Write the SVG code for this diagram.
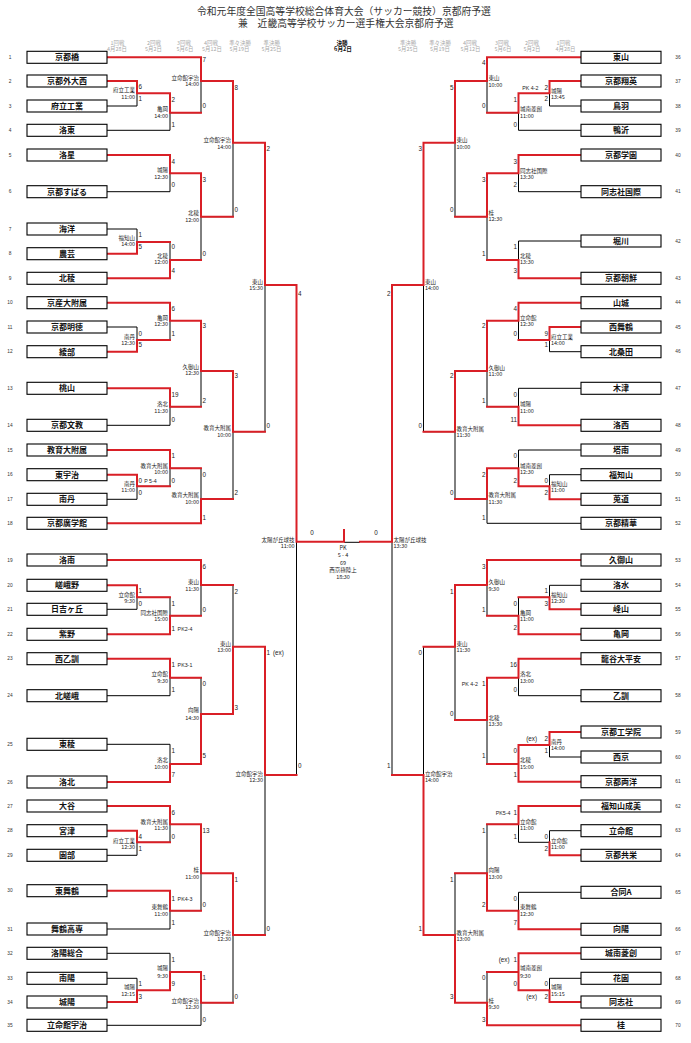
<svg xmlns="http://www.w3.org/2000/svg" width="691" height="1043" viewBox="0 0 691 1043">
<style>
.k{fill:none;stroke:#000;stroke-width:1}
.r{fill:none;stroke:#d91f26;stroke-width:2;stroke-linecap:square;stroke-linejoin:miter}
.box{fill:#fff;stroke:#000;stroke-width:1.1}
.nm{font-family:"Noto Sans CJK JP","Noto Sans",sans-serif;font-size:8px;font-weight:bold;text-anchor:middle;fill:#111}
.no{font-family:"Liberation Sans",sans-serif;font-size:4.8px;text-anchor:middle;fill:#333}
.s{font-family:"Liberation Sans","Noto Sans CJK JP",sans-serif;font-size:6.3px;fill:#222}
.e{text-anchor:end}
.pk{font-size:5.3px}
.v{font-family:"Noto Sans CJK JP","Noto Sans",sans-serif;font-size:5.5px;fill:#222}
.vl{text-anchor:end}
.hd{font-family:"Noto Sans CJK JP",sans-serif;font-size:5.4px;text-anchor:middle;fill:#a8a8a8}
.hf{font-family:"Noto Sans CJK JP",sans-serif;font-size:5.6px;text-anchor:middle;fill:#111;font-weight:bold}
.tt{font-family:"Noto Sans CJK JP",sans-serif;font-size:9.8px;fill:#333}
.c{text-anchor:middle}
</style>
<rect width="691" height="1043" fill="#fff"/>
<g id="header">
<text class="tt" x="197" y="14.6">令和元年度全国高等学校総合体育大会（サッカー競技）京都府予選</text>
<text class="tt" x="238" y="26.6">兼　近畿高等学校サッカー選手権大会京都府予選</text>
<text class="hd" x="117.5" y="45.3">1回戦</text><text class="hd" x="117" y="51.3">4月28日</text>
<text class="hd" x="154" y="45.3">2回戦</text><text class="hd" x="153.5" y="51.3">5月2日</text>
<text class="hd" x="184" y="45.3">3回戦</text><text class="hd" x="185" y="51.3">5月6日</text>
<text class="hd" x="211" y="45.3">4回戦</text><text class="hd" x="212" y="51.3">5月12日</text>
<text class="hd" x="240" y="45.3">準々決勝</text><text class="hd" x="239.5" y="51.3">5月19日</text>
<text class="hd" x="271.7" y="45.3">準決勝</text><text class="hd" x="271.5" y="51.3">5月25日</text>
<text class="hf" x="342" y="45.3">決勝</text><text class="hf" x="343" y="51.3">6月2日</text>
<text class="hd" x="408" y="45.3">準決勝</text><text class="hd" x="408" y="51.3">5月25日</text>
<text class="hd" x="440" y="45.3">準々決勝</text><text class="hd" x="440" y="51.3">5月19日</text>
<text class="hd" x="470" y="45.3">4回戦</text><text class="hd" x="470.5" y="51.3">5月12日</text>
<text class="hd" x="502" y="45.3">3回戦</text><text class="hd" x="503" y="51.3">5月6日</text>
<text class="hd" x="532" y="45.3">2回戦</text><text class="hd" x="532" y="51.3">5月2日</text>
<text class="hd" x="563.5" y="45.3">1回戦</text><text class="hd" x="565.5" y="51.3">4月28日</text>
</g>
<g id="connectors">
<path class="k" d="M107,106H137V93.3M107,130.3H170V112.7M170,112.7H201V81M107,191.7H170V173.3M107,229H137V242M137,242H170V260M170,260H201V216.7M201,216.7H233V142.7M107,327H137V340M137,340H170V320.7M107,425.3H170V406.7M170,406.7H201V371M107,499.3H137V486.3M137,486.3H170V468.3M170,468.3H201V499M201,499H233V431.7M233,431.7H265V285M107,609.3H137V597.3M137,597.3H170V615.7M170,615.7H201V585M107,695.7H170V677.7M107,744.3H170V764M170,677.7H201V714M201,585H233V646.7M107,855.3H137V842.3M137,842.3H170V824.3M107,929H170V910.7M170,910.7H201V873.3M107,978.3H137V990.3M107,953.3H170V972M107,1025.3H201V1002.7M201,1002.7H233V935M233,935H265V775M265,775H296.5V541.7"/>
<path class="k" d="M581,106H549.5V93.3M581,130.3H518.5V112.7M518.5,112.7H487V81M581,191.7H518.5V173.3M581,241H518.5V260M518.5,260H487V216.7M487,216.7H455V142.7M581,351.7H549.5V340M549.5,340H518.5V320.7M581,388.3H518.5V406.7M518.5,406.7H487V371M581,474.7H549.5V486.3M581,450H518.5V468.3M581,523.3H487V499M487,499H455V431.7M455,431.7H423.5V285M581,585.3H549.5V597.3M549.5,597.3H518.5V615.7M518.5,615.7H487V585M581,695.7H518.5V677.7M581,757H549.5V745M518.5,764H487V720M487,720H455V646.7M581,830.7H549.5V842.3M549.5,842.3H518.5V824.3M581,892.3H518.5V910.7M518.5,824.3H487V873.3M581,978.3H549.5V990.3M518.5,972H487V1002.7M487,873.3H455V935M455,646.7H423.5V775M423.5,775H392V541.7"/>
<path class="k" d="M344,542.3H360"/>
<path class="r" d="M107,81H137V93.3M137,93.3H170V112.7M107,57.3H201V81M107,155H170V173.3M107,253.7H137V242M107,278.3H170V260M170,173.3H201V216.7M201,81H233V142.7M107,351.7H137V340M107,302.7H170V320.7M107,388.3H170V406.7M170,320.7H201V371M107,474.7H137V486.3M107,450H170V468.3M107,523.3H201V499M201,371H233V431.7M233,142.7H265V285M107,585.3H137V597.3M107,634.3H170V615.7M107,560H201V585M107,658.7H170V677.7M107,782H170V764M170,764H201V714M201,714H233V646.7M107,830.7H137V842.3M107,806H170V824.3M107,890.7H170V910.7M170,824.3H201V873.3M107,1002H137V990.3M137,990.3H170V972M170,972H201V1002.7M201,873.3H233V935M233,646.7H265V775M265,285H296.5V541.7H344M170,112.7H201M137,242H170M170,260H201M201,216.7H233M137,340H170M170,406.7H201M137,486.3H170M170,468.3H201M201,499H233M233,431.7H265M137,597.3H170M170,615.7H201M170,677.7H201M201,585H233M137,842.3H170M170,910.7H201M201,1002.7H233M233,935H265M265,775H296.5M344,530V541.7"/>
<path class="r" d="M581,81H549.5V93.3M549.5,93.3H518.5V112.7M581,57.3H487V81M581,155H518.5V173.3M581,278.3H518.5V260M518.5,173.3H487V216.7M487,81H455V142.7M581,327H549.5V340M581,302.7H518.5V320.7M581,425.3H518.5V406.7M518.5,320.7H487V371M581,499.3H549.5V486.3M549.5,486.3H518.5V468.3M518.5,468.3H487V499M487,371H455V431.7M455,142.7H423.5V285M581,609.3H549.5V597.3M581,634.3H518.5V615.7M581,560H487V585M581,658.7H518.5V677.7M581,732H549.5V745M549.5,745H518.5V781.7H581M518.5,677.7H487V720M487,585H455V646.7M581,855.3H549.5V842.3M581,806H518.5V824.3M581,929.3H518.5V910.7M518.5,910.7H487V873.3M581,1002H549.5V990.3M581,953.3H518.5V990.3H549.5M581,1025.3H487V1002.7M487,1002.7H455V935M455,935H423.5V775M423.5,285H392V541.7H360M518.5,112.7H487M518.5,260H487M487,216.7H455M549.5,340H518.5M518.5,406.7H487M487,499H455M455,431.7H423.5M549.5,597.3H518.5M518.5,615.7H487M518.5,764H487M487,720H455M518.5,824.3H487M518.5,972H487M487,873.3H455M455,646.7H423.5M423.5,775H392"/>
</g>
<g id="team-1"><rect class="box" x="27" y="51.3" width="80" height="12"/><text class="nm" x="67" y="60.3">京都橋</text><text class="no" x="10" y="58.9">1</text></g>
<g id="team-2"><rect class="box" x="27" y="75" width="80" height="12"/><text class="nm" x="67" y="84">京都外大西</text><text class="no" x="10" y="82.6">2</text></g>
<g id="team-3"><rect class="box" x="27" y="100" width="80" height="12"/><text class="nm" x="67" y="109">府立工業</text><text class="no" x="10" y="107.6">3</text></g>
<g id="team-4"><rect class="box" x="27" y="124.3" width="80" height="12"/><text class="nm" x="67" y="133.3">洛東</text><text class="no" x="10" y="131.9">4</text></g>
<g id="team-5"><rect class="box" x="27" y="149" width="80" height="12"/><text class="nm" x="67" y="158">洛星</text><text class="no" x="10" y="156.6">5</text></g>
<g id="team-6"><rect class="box" x="27" y="185.7" width="80" height="12"/><text class="nm" x="67" y="194.7">京都すばる</text><text class="no" x="10" y="193.3">6</text></g>
<g id="team-7"><rect class="box" x="27" y="223" width="80" height="12"/><text class="nm" x="67" y="232">海洋</text><text class="no" x="10" y="230.6">7</text></g>
<g id="team-8"><rect class="box" x="27" y="247.7" width="80" height="12"/><text class="nm" x="67" y="256.7">農芸</text><text class="no" x="10" y="255.3">8</text></g>
<g id="team-9"><rect class="box" x="27" y="272.3" width="80" height="12"/><text class="nm" x="67" y="281.3">北稜</text><text class="no" x="10" y="279.9">9</text></g>
<g id="team-10"><rect class="box" x="27" y="296.7" width="80" height="12"/><text class="nm" x="67" y="305.7">京産大附属</text><text class="no" x="10" y="304.3">10</text></g>
<g id="team-11"><rect class="box" x="27" y="321" width="80" height="12"/><text class="nm" x="67" y="330">京都明徳</text><text class="no" x="10" y="328.6">11</text></g>
<g id="team-12"><rect class="box" x="27" y="345.7" width="80" height="12"/><text class="nm" x="67" y="354.7">綾部</text><text class="no" x="10" y="353.3">12</text></g>
<g id="team-13"><rect class="box" x="27" y="382.3" width="80" height="12"/><text class="nm" x="67" y="391.3">桃山</text><text class="no" x="10" y="389.9">13</text></g>
<g id="team-14"><rect class="box" x="27" y="419.3" width="80" height="12"/><text class="nm" x="67" y="428.3">京都文教</text><text class="no" x="10" y="426.9">14</text></g>
<g id="team-15"><rect class="box" x="27" y="444" width="80" height="12"/><text class="nm" x="67" y="453">教育大附属</text><text class="no" x="10" y="451.6">15</text></g>
<g id="team-16"><rect class="box" x="27" y="468.7" width="80" height="12"/><text class="nm" x="67" y="477.7">東宇治</text><text class="no" x="10" y="476.3">16</text></g>
<g id="team-17"><rect class="box" x="27" y="493.3" width="80" height="12"/><text class="nm" x="67" y="502.3">南丹</text><text class="no" x="10" y="500.9">17</text></g>
<g id="team-18"><rect class="box" x="27" y="517.3" width="80" height="12"/><text class="nm" x="67" y="526.3">京都廣学館</text><text class="no" x="10" y="524.9">18</text></g>
<g id="team-19"><rect class="box" x="27" y="554" width="80" height="12"/><text class="nm" x="67" y="563">洛南</text><text class="no" x="10" y="561.6">19</text></g>
<g id="team-20"><rect class="box" x="27" y="579.3" width="80" height="12"/><text class="nm" x="67" y="588.3">嵯峨野</text><text class="no" x="10" y="586.9">20</text></g>
<g id="team-21"><rect class="box" x="27" y="603.3" width="80" height="12"/><text class="nm" x="67" y="612.3">日吉ヶ丘</text><text class="no" x="10" y="610.9">21</text></g>
<g id="team-22"><rect class="box" x="27" y="628.3" width="80" height="12"/><text class="nm" x="67" y="637.3">紫野</text><text class="no" x="10" y="635.9">22</text></g>
<g id="team-23"><rect class="box" x="27" y="652.7" width="80" height="12"/><text class="nm" x="67" y="661.7">西乙訓</text><text class="no" x="10" y="660.3">23</text></g>
<g id="team-24"><rect class="box" x="27" y="689.7" width="80" height="12"/><text class="nm" x="67" y="698.7">北嵯峨</text><text class="no" x="10" y="697.3">24</text></g>
<g id="team-25"><rect class="box" x="27" y="738.3" width="80" height="12"/><text class="nm" x="67" y="747.3">東稜</text><text class="no" x="10" y="745.9">25</text></g>
<g id="team-26"><rect class="box" x="27" y="776" width="80" height="12"/><text class="nm" x="67" y="785">洛北</text><text class="no" x="10" y="783.6">26</text></g>
<g id="team-27"><rect class="box" x="27" y="800" width="80" height="12"/><text class="nm" x="67" y="809">大谷</text><text class="no" x="10" y="807.6">27</text></g>
<g id="team-28"><rect class="box" x="27" y="824.7" width="80" height="12"/><text class="nm" x="67" y="833.7">宮津</text><text class="no" x="10" y="832.3">28</text></g>
<g id="team-29"><rect class="box" x="27" y="849.3" width="80" height="12"/><text class="nm" x="67" y="858.3">園部</text><text class="no" x="10" y="856.9">29</text></g>
<g id="team-30"><rect class="box" x="27" y="884.7" width="80" height="12"/><text class="nm" x="67" y="893.7">東舞鶴</text><text class="no" x="10" y="892.3">30</text></g>
<g id="team-31"><rect class="box" x="27" y="923" width="80" height="12"/><text class="nm" x="67" y="932">舞鶴高専</text><text class="no" x="10" y="930.6">31</text></g>
<g id="team-32"><rect class="box" x="27" y="947.3" width="80" height="12"/><text class="nm" x="67" y="956.3">洛陽総合</text><text class="no" x="10" y="954.9">32</text></g>
<g id="team-33"><rect class="box" x="27" y="972.3" width="80" height="12"/><text class="nm" x="67" y="981.3">南陽</text><text class="no" x="10" y="979.9">33</text></g>
<g id="team-34"><rect class="box" x="27" y="996" width="80" height="12"/><text class="nm" x="67" y="1005">城陽</text><text class="no" x="10" y="1003.6">34</text></g>
<g id="team-35"><rect class="box" x="27" y="1019.3" width="80" height="12"/><text class="nm" x="67" y="1028.3">立命館宇治</text><text class="no" x="10" y="1026.9">35</text></g>
<g id="team-36"><rect class="box" x="581" y="51.3" width="80" height="12"/><text class="nm" x="621" y="60.3">東山</text><text class="no" x="678" y="58.9">36</text></g>
<g id="team-37"><rect class="box" x="581" y="75" width="80" height="12"/><text class="nm" x="621" y="84">京都翔英</text><text class="no" x="678" y="82.6">37</text></g>
<g id="team-38"><rect class="box" x="581" y="100" width="80" height="12"/><text class="nm" x="621" y="109">鳥羽</text><text class="no" x="678" y="107.6">38</text></g>
<g id="team-39"><rect class="box" x="581" y="124.3" width="80" height="12"/><text class="nm" x="621" y="133.3">鴨沂</text><text class="no" x="678" y="131.9">39</text></g>
<g id="team-40"><rect class="box" x="581" y="149" width="80" height="12"/><text class="nm" x="621" y="158">京都学園</text><text class="no" x="678" y="156.6">40</text></g>
<g id="team-41"><rect class="box" x="581" y="185.7" width="80" height="12"/><text class="nm" x="621" y="194.7">同志社国際</text><text class="no" x="678" y="193.3">41</text></g>
<g id="team-42"><rect class="box" x="581" y="235" width="80" height="12"/><text class="nm" x="621" y="244">堀川</text><text class="no" x="678" y="242.6">42</text></g>
<g id="team-43"><rect class="box" x="581" y="272.3" width="80" height="12"/><text class="nm" x="621" y="281.3">京都朝鮮</text><text class="no" x="678" y="279.9">43</text></g>
<g id="team-44"><rect class="box" x="581" y="296.7" width="80" height="12"/><text class="nm" x="621" y="305.7">山城</text><text class="no" x="678" y="304.3">44</text></g>
<g id="team-45"><rect class="box" x="581" y="321" width="80" height="12"/><text class="nm" x="621" y="330">西舞鶴</text><text class="no" x="678" y="328.6">45</text></g>
<g id="team-46"><rect class="box" x="581" y="345.7" width="80" height="12"/><text class="nm" x="621" y="354.7">北桑田</text><text class="no" x="678" y="353.3">46</text></g>
<g id="team-47"><rect class="box" x="581" y="382.3" width="80" height="12"/><text class="nm" x="621" y="391.3">木津</text><text class="no" x="678" y="389.9">47</text></g>
<g id="team-48"><rect class="box" x="581" y="419.3" width="80" height="12"/><text class="nm" x="621" y="428.3">洛西</text><text class="no" x="678" y="426.9">48</text></g>
<g id="team-49"><rect class="box" x="581" y="444" width="80" height="12"/><text class="nm" x="621" y="453">塔南</text><text class="no" x="678" y="451.6">49</text></g>
<g id="team-50"><rect class="box" x="581" y="468.7" width="80" height="12"/><text class="nm" x="621" y="477.7">福知山</text><text class="no" x="678" y="476.3">50</text></g>
<g id="team-51"><rect class="box" x="581" y="493.3" width="80" height="12"/><text class="nm" x="621" y="502.3">莵道</text><text class="no" x="678" y="500.9">51</text></g>
<g id="team-52"><rect class="box" x="581" y="517.3" width="80" height="12"/><text class="nm" x="621" y="526.3">京都精華</text><text class="no" x="678" y="524.9">52</text></g>
<g id="team-53"><rect class="box" x="581" y="554" width="80" height="12"/><text class="nm" x="621" y="563">久御山</text><text class="no" x="678" y="561.6">53</text></g>
<g id="team-54"><rect class="box" x="581" y="579.3" width="80" height="12"/><text class="nm" x="621" y="588.3">洛水</text><text class="no" x="678" y="586.9">54</text></g>
<g id="team-55"><rect class="box" x="581" y="603.3" width="80" height="12"/><text class="nm" x="621" y="612.3">峰山</text><text class="no" x="678" y="610.9">55</text></g>
<g id="team-56"><rect class="box" x="581" y="628.3" width="80" height="12"/><text class="nm" x="621" y="637.3">亀岡</text><text class="no" x="678" y="635.9">56</text></g>
<g id="team-57"><rect class="box" x="581" y="652.7" width="80" height="12"/><text class="nm" x="621" y="661.7">龍谷大平安</text><text class="no" x="678" y="660.3">57</text></g>
<g id="team-58"><rect class="box" x="581" y="689.7" width="80" height="12"/><text class="nm" x="621" y="698.7">乙訓</text><text class="no" x="678" y="697.3">58</text></g>
<g id="team-59"><rect class="box" x="581" y="726" width="80" height="12"/><text class="nm" x="621" y="735">京都工学院</text><text class="no" x="678" y="733.6">59</text></g>
<g id="team-60"><rect class="box" x="581" y="751" width="80" height="12"/><text class="nm" x="621" y="760">西京</text><text class="no" x="678" y="758.6">60</text></g>
<g id="team-61"><rect class="box" x="581" y="775.7" width="80" height="12"/><text class="nm" x="621" y="784.7">京都両洋</text><text class="no" x="678" y="783.3">61</text></g>
<g id="team-62"><rect class="box" x="581" y="800" width="80" height="12"/><text class="nm" x="621" y="809">福知山成美</text><text class="no" x="678" y="807.6">62</text></g>
<g id="team-63"><rect class="box" x="581" y="824.7" width="80" height="12"/><text class="nm" x="621" y="833.7">立命館</text><text class="no" x="678" y="832.3">63</text></g>
<g id="team-64"><rect class="box" x="581" y="849.3" width="80" height="12"/><text class="nm" x="621" y="858.3">京都共栄</text><text class="no" x="678" y="856.9">64</text></g>
<g id="team-65"><rect class="box" x="581" y="886.3" width="80" height="12"/><text class="nm" x="621" y="895.3">合同A</text><text class="no" x="678" y="893.9">65</text></g>
<g id="team-66"><rect class="box" x="581" y="923.3" width="80" height="12"/><text class="nm" x="621" y="932.3">向陽</text><text class="no" x="678" y="930.9">66</text></g>
<g id="team-67"><rect class="box" x="581" y="947.3" width="80" height="12"/><text class="nm" x="621" y="956.3">城南菱創</text><text class="no" x="678" y="954.9">67</text></g>
<g id="team-68"><rect class="box" x="581" y="972.3" width="80" height="12"/><text class="nm" x="621" y="981.3">花園</text><text class="no" x="678" y="979.9">68</text></g>
<g id="team-69"><rect class="box" x="581" y="996" width="80" height="12"/><text class="nm" x="621" y="1005">同志社</text><text class="no" x="678" y="1003.6">69</text></g>
<g id="team-70"><rect class="box" x="581" y="1019.3" width="80" height="12"/><text class="nm" x="621" y="1028.3">桂</text><text class="no" x="678" y="1026.9">70</text></g>
<g id="scores-left" class="s">
<text x="138.5" y="89">6</text><text x="138.5" y="100.6">1</text>
<text x="171.5" y="101.6">2</text><text x="171.5" y="127.3">1</text>
<text x="202.5" y="62.3">7</text><text x="202.5" y="108">0</text>
<text x="171.5" y="164">4</text><text x="171.5" y="187.3">0</text>
<text x="138.5" y="236.6">1</text><text x="138.5" y="249">5</text>
<text x="171.5" y="249.3">0</text><text x="171.5" y="273.3">4</text>
<text x="202.5" y="181.6">3</text><text x="202.5" y="255.6">0</text>
<text x="234.5" y="89.6">8</text><text x="234.5" y="212.3">0</text>
<text x="138.5" y="336">0</text><text x="138.5" y="347.3">5</text>
<text x="171.5" y="310.6">6</text><text x="171.5" y="336">1</text>
<text x="171.5" y="396.6">19</text><text x="171.5" y="421.6">0</text>
<text x="202.5" y="328.3">3</text><text x="202.5" y="402.6">2</text>
<text x="138.5" y="482.6">0<tspan class="pk" dx="2.2">P 5-4</tspan></text><text x="138.5" y="494.6">0</text>
<text x="171.5" y="457.6">1</text><text x="171.5" y="482.6">0</text>
<text x="202.5" y="476.6">0</text><text x="202.5" y="519.6">1</text>
<text x="234.5" y="378.3">3</text><text x="234.5" y="494.6">2</text>
<text x="266.5" y="150.6">2</text><text x="266.5" y="428">0</text>
<text x="138.5" y="593">1</text><text x="138.5" y="605.6">0</text>
<text x="171.5" y="605.6">1</text><text x="171.5" y="630.6">1<tspan class="pk" dx="2.6">PK2-4</tspan></text>
<text x="202.5" y="569">6</text><text x="202.5" y="611.6">0</text>
<text x="171.5" y="667.3">1<tspan class="pk" dx="2.6">PK3-1</tspan></text><text x="171.5" y="691.6">1</text>
<text x="171.5" y="753">1</text><text x="171.5" y="777.3">7</text>
<text x="202.5" y="685.6">0</text><text x="202.5" y="758.3">5</text>
<text x="234.5" y="594">2</text><text x="234.5" y="710">3</text>
<text x="138.5" y="839">4</text><text x="138.5" y="851">1</text>
<text x="171.5" y="815">6</text><text x="171.5" y="839">0</text>
<text x="171.5" y="901">1<tspan class="pk" dx="2.6">PK4-3</tspan></text><text x="171.5" y="925">1</text>
<text x="202.5" y="833">13</text><text x="202.5" y="906.6">0</text>
<text x="138.5" y="986.3">1</text><text x="138.5" y="999">3</text>
<text x="171.5" y="962">1</text><text x="171.5" y="986.3">9</text>
<text x="202.5" y="980">1</text><text x="202.5" y="1021.6">0</text>
<text x="234.5" y="881.6">1</text><text x="234.5" y="999">0</text>
<text x="266.5" y="655">1<tspan dx="3">(ex)</tspan></text><text x="266.5" y="930.6">0</text>
<text x="298" y="295.6">4</text><text x="298" y="768.3">0</text>
<text x="312" y="534.6" class="c">0</text>
</g>
<g id="scores-right" class="s">
<text class="e" x="548" y="89.6">2</text><text class="e pk" x="538.5" y="89.6">PK 4-2</text><text class="e" x="548" y="100.6">2</text>
<text class="e" x="517" y="101.6">1</text><text class="e" x="517" y="126.6">0</text>
<text class="e" x="485.5" y="64.6">4</text><text class="e" x="485.5" y="108">0</text>
<text class="e" x="517" y="164">3</text><text class="e" x="517" y="187.3">2</text>
<text class="e" x="517" y="249.3">1</text><text class="e" x="517" y="273.3">3</text>
<text class="e" x="485.5" y="181.6">3</text><text class="e" x="485.5" y="255.6">1</text>
<text class="e" x="453.5" y="89.6">5</text><text class="e" x="453.5" y="212.3">0</text>
<text class="e" x="422" y="150.6">3</text><text class="e" x="422" y="428">0</text>
<text class="e" x="548" y="336">9</text><text class="e" x="548" y="347.3">1</text>
<text class="e" x="517" y="310.6">4</text><text class="e" x="517" y="336">0</text>
<text class="e" x="517" y="396.6">0</text><text class="e" x="517" y="421.6">11</text>
<text class="e" x="485.5" y="328.3">2</text><text class="e" x="485.5" y="402.6">1</text>
<text class="e" x="548" y="482.6">0</text><text class="e" x="548" y="494.6">2</text>
<text class="e" x="517" y="457.6">0</text><text class="e" x="517" y="482.6">2</text>
<text class="e" x="485.5" y="476.6">2</text><text class="e" x="485.5" y="519.6">1</text>
<text class="e" x="453.5" y="378.3">2</text><text class="e" x="453.5" y="494.6">0</text>
<text class="e" x="390.5" y="295.6">2</text><text class="e" x="390.5" y="768.3">1</text>
<text class="e" x="548" y="593">1</text><text class="e" x="548" y="605.6">3</text>
<text class="e" x="517" y="605.6">0</text><text class="e" x="517" y="630">2</text>
<text class="e" x="485.5" y="569">3</text><text class="e" x="485.5" y="611.6">1</text>
<text class="e" x="517" y="667.3">16</text><text class="e" x="517" y="691.6">0</text>
<text class="e" x="548" y="740.6">2</text><text class="e" x="537" y="740.6">(ex)</text><text class="e" x="548" y="753">1</text>
<text class="e" x="517" y="753">0</text><text class="e" x="517" y="777.3">1</text>
<text class="e" x="485.5" y="685.6">1</text><text class="e pk" x="478" y="685.6">PK 4-2</text><text class="e" x="485.5" y="758.3">1</text>
<text class="e" x="453.5" y="594">1</text><text class="e" x="453.5" y="715.6">0</text>
<text class="e" x="548" y="839">0</text><text class="e" x="548" y="851">2</text>
<text class="e" x="517" y="815">1</text><text class="e pk" x="510.5" y="815">PK5-4</text><text class="e" x="517" y="839">1</text>
<text class="e" x="517" y="901">0</text><text class="e" x="517" y="925">7</text>
<text class="e" x="485.5" y="833">1</text><text class="e" x="485.5" y="906.6">2</text>
<text class="e" x="548" y="986.3">0</text><text class="e" x="548" y="999">2</text><text class="e" x="537" y="999">(ex)</text>
<text class="e" x="517" y="962">1</text><text class="e" x="509.5" y="962">(ex)</text><text class="e" x="517" y="986.3">0</text>
<text class="e" x="485.5" y="980">0</text><text class="e" x="485.5" y="1021.6">3</text>
<text class="e" x="453.5" y="881.6">1</text><text class="e" x="453.5" y="999">3</text>
<text class="e" x="422" y="655">0</text><text class="e" x="422" y="930.6">1</text>
<text x="376" y="534.6" class="c">0</text>
</g>
<g id="venues-left" class="v vl">
<text x="135" y="92">府立工業</text><text x="135" y="98.7">11:00</text>
<text x="168" y="111">亀岡</text><text x="168" y="118">14:00</text>
<text x="199" y="80">立命館宇治</text><text x="199" y="86.3">14:00</text>
<text x="168" y="172">城陽</text><text x="168" y="178.7">12:30</text>
<text x="135" y="239.7">福知山</text><text x="135" y="246.3">14:00</text>
<text x="168" y="257.7">北稜</text><text x="168" y="264.3">12:00</text>
<text x="199" y="215.3">北稜</text><text x="199" y="221.6">12:00</text>
<text x="231" y="142">立命館宇治</text><text x="231" y="148.7">14:00</text>
<text x="135" y="338.7">南丹</text><text x="135" y="345">12:30</text>
<text x="168" y="319.7">亀岡</text><text x="168" y="326.3">12:30</text>
<text x="168" y="406.3">洛北</text><text x="168" y="412.6">11:30</text>
<text x="199" y="368.7">久御山</text><text x="199" y="375.3">12:30</text>
<text x="135" y="485.7">南丹</text><text x="135" y="492">11:00</text>
<text x="168" y="467.7">教育大附属</text><text x="168" y="474">10:00</text>
<text x="199" y="497">教育大附属</text><text x="199" y="504.3">10:00</text>
<text x="231" y="430.3">教育大附属</text><text x="231" y="437">10:00</text>
<text x="263" y="283.7">東山</text><text x="263" y="290">15:30</text>
<text x="135" y="597">立命館</text><text x="135" y="603.3">9:30</text>
<text x="168" y="614.7">同志社国際</text><text x="168" y="621">15:00</text>
<text x="199" y="584.3">東山</text><text x="199" y="590.6">11:30</text>
<text x="168" y="676.3">立命館</text><text x="168" y="682.7">9:30</text>
<text x="168" y="762">洛北</text><text x="168" y="768.7">10:00</text>
<text x="199" y="712">向陽</text><text x="199" y="719.7">14:30</text>
<text x="231" y="645.7">東山</text><text x="231" y="652">13:00</text>
<text x="135" y="842.7">府立工業</text><text x="135" y="849">12:30</text>
<text x="168" y="823.7">教育大附属</text><text x="168" y="830">11:30</text>
<text x="168" y="909.3">東舞鶴</text><text x="168" y="916">11:00</text>
<text x="199" y="872.3">桂</text><text x="199" y="878.7">11:00</text>
<text x="135" y="989.3">城陽</text><text x="135" y="995.6">12:15</text>
<text x="168" y="970.3">城陽</text><text x="168" y="977.7">9:30</text>
<text x="199" y="1002.7">立命館宇治</text><text x="199" y="1009">12:30</text>
<text x="231" y="934.7">立命館宇治</text><text x="231" y="941">12:30</text>
<text x="263" y="775.7">立命館宇治</text><text x="263" y="782">12:30</text>
<text x="294.5" y="542">太陽が丘球技</text><text x="294.5" y="548.3">11:00</text>
</g>
<g id="venues-right" class="v">
<text x="551" y="92.7">城陽</text><text x="551" y="99">13:45</text>
<text x="520" y="111">城南菱創</text><text x="520" y="117.7">11:00</text>
<text x="488.5" y="80.3">東山</text><text x="488.5" y="86.6">10:00</text>
<text x="520" y="173">同志社国際</text><text x="520" y="179.3">13:30</text>
<text x="520" y="257.7">北稜</text><text x="520" y="264.3">13:30</text>
<text x="488.5" y="214.7">桂</text><text x="488.5" y="221">12:30</text>
<text x="456.5" y="142">東山</text><text x="456.5" y="148.7">10:00</text>
<text x="425" y="283.7">東山</text><text x="425" y="290">14:00</text>
<text x="551" y="338.7">府立工業</text><text x="551" y="345">14:00</text>
<text x="520" y="319.7">立命館</text><text x="520" y="326.3">12:30</text>
<text x="520" y="406.3">城陽</text><text x="520" y="412.6">11:00</text>
<text x="488.5" y="369.7">久御山</text><text x="488.5" y="376">11:00</text>
<text x="551" y="485.7">福知山</text><text x="551" y="492">11:00</text>
<text x="520" y="467.7">城南菱創</text><text x="520" y="474">12:30</text>
<text x="488.5" y="497">教育大附属</text><text x="488.5" y="504.3">11:30</text>
<text x="456.5" y="431">教育大附属</text><text x="456.5" y="437.3">11:30</text>
<text x="393.5" y="542">太陽が丘球技</text><text x="393.5" y="548.3">13:30</text>
<text x="551" y="597">福知山</text><text x="551" y="603.3">12:30</text>
<text x="520" y="614.7">亀岡</text><text x="520" y="621">11:00</text>
<text x="488.5" y="584.3">久御山</text><text x="488.5" y="590.6">9:30</text>
<text x="520" y="676.3">洛北</text><text x="520" y="682.7">13:00</text>
<text x="551" y="743.7">南丹</text><text x="551" y="750">14:00</text>
<text x="520" y="762">北稜</text><text x="520" y="768.7">15:00</text>
<text x="488.5" y="719.7">北稜</text><text x="488.5" y="726">13:30</text>
<text x="456.5" y="645.7">東山</text><text x="456.5" y="652">11:30</text>
<text x="551" y="842.7">立命館</text><text x="551" y="849">11:00</text>
<text x="520" y="823.7">立命館</text><text x="520" y="830">11:00</text>
<text x="520" y="909.3">東舞鶴</text><text x="520" y="916">12:30</text>
<text x="488.5" y="872.3">向陽</text><text x="488.5" y="878.7">13:00</text>
<text x="551" y="989.3">城陽</text><text x="551" y="995.6">15:15</text>
<text x="520" y="970.3">城南菱創</text><text x="520" y="977.7">9:30</text>
<text x="488.5" y="1002.7">桂</text><text x="488.5" y="1009">9:30</text>
<text x="456.5" y="934.7">教育大附属</text><text x="456.5" y="941">13:00</text>
<text x="425" y="775.7">立命館宇治</text><text x="425" y="782">14:00</text>
</g>
<g id="final-info" class="v c">
<text x="343" y="550.3">PK</text>
<text x="343" y="556.6">5 - 4</text>
<text x="343" y="565.3">69</text>
<text x="343" y="572.3">西京極陸上</text>
<text x="343" y="578.6">18:30</text>
</g>
</svg>
